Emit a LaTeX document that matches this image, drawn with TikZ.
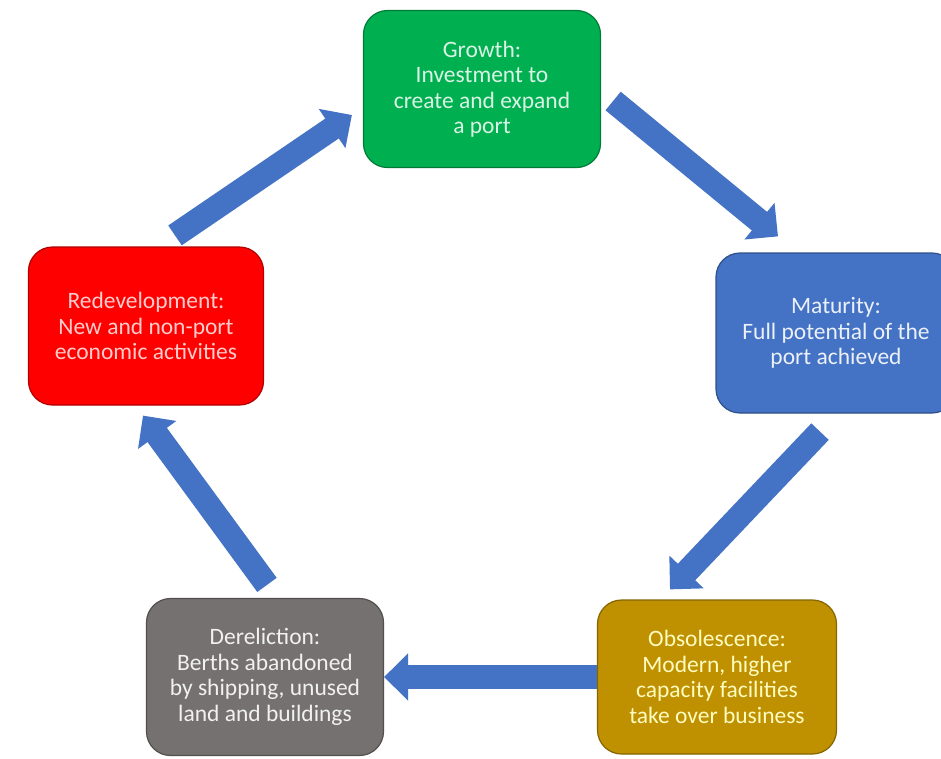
\documentclass[tikz,border=0pt]{standalone}
\usepackage{fontspec}
\setmainfont{Carlito}
\usetikzlibrary{calc,arrows.meta}
\definecolor{growgreen}{RGB}{0,176,80}
\definecolor{matblue}{RGB}{68,114,196}
\definecolor{obsgold}{RGB}{191,144,0}
\definecolor{dergray}{RGB}{118,113,113}
\definecolor{redevred}{RGB}{255,0,0}
\definecolor{flowblue}{RGB}{68,114,196}

\begin{document}
\begin{tikzpicture}[x=1pt, y=-1pt,
		stage/.style={rounded corners=24pt, line width=1.2pt, align=center, inner sep=0pt,
			minimum width=237pt, minimum height=157pt, font=\fontsize{23.5}{25.5}\selectfont},
		flow/.style={draw=flowblue, line width=24pt, -{Triangle[width=46pt,length=24pt]}}]
		%%%%% START %%%%%
		\fill[white] (0, 0) rectangle (941, 758);
		\useasboundingbox (0, 0) rectangle (941, 758);
		\clip (0, 0) rectangle (941, 758);
		
		\node[stage, fill=growgreen, draw=growgreen!70!black, text=growgreen!15!white] (grow) at (482, 89)
			{Growth:\\Investment to\\create and expand\\a port};
		\node[stage, fill=matblue, draw=matblue!70!black, text=matblue!10!white, minimum width=240pt, minimum height=160pt] (mat) at (836, 333)
			{Maturity:\\Full potential of the\\port achieved};
		\node[stage, fill=obsgold, draw=obsgold!70!black, text=yellow!25!white, minimum width=239pt, minimum height=154pt] (obs) at (717, 677)
			{Obsolescence:\\Modern, higher\\capacity facilities\\take over business};
		\node[stage, fill=dergray, draw=dergray!70!black, text=dergray!10!white] (der) at (265, 677)
			{Dereliction:\\Berths abandoned\\by shipping, unused\\land and buildings};
		\node[stage, fill=redevred, draw=redevred!70!black, text=redevred!20!white, minimum width=235pt, minimum height=158pt] (redev) at (146, 326)
			{Redevelopment:\\New and non-port\\economic activities};
		
		\coordinate (grow-out) at ($(grow.east)+(12, 12)$);
		\coordinate (mat-in) at ($(mat.north)+(-58, -16)$);
		\coordinate (mat-out) at ($(mat.south)+(-16, 18)$);
		\coordinate (obs-in) at ($(obs.north)+(-47, -10)$);
		\coordinate (der-out) at ($(der.north)+(2, -13)$);
		\coordinate (redev-in) at ($(redev.south)+(-3, 10)$);
		\coordinate (redev-out) at ($(redev.north)+(29, -11)$);
		\coordinate (grow-in) at ($(grow.west)+(-11, 26)$);
		
		\draw[flow] (grow-out) -- (mat-in);
		\draw[flow] (mat-out) -- (obs-in);
		\draw[flow] (obs.west) -- (der.east);
		\draw[flow] (der-out) -- (redev-in);
		\draw[flow] (redev-out) -- (grow-in);
		%%%%% END %%%%%
\end{tikzpicture}
\end{document}
